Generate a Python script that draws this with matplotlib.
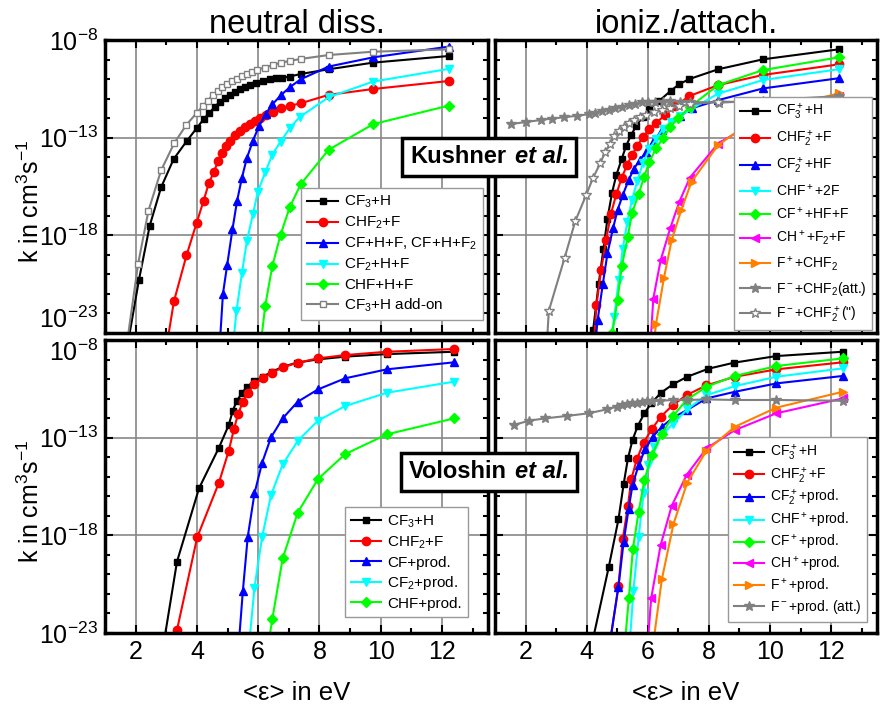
import numpy as np
import matplotlib
matplotlib.use("Agg")
import matplotlib.pyplot as plt
from matplotlib.ticker import NullFormatter
from matplotlib.offsetbox import TextArea, HPacker, AnnotationBbox

plt.rcParams['font.family'] = ['Liberation Sans', 'DejaVu Sans']
plt.rcParams['mathtext.default'] = 'regular'

# ---- Kushner et al., neutral dissociation (log10 k in cm^3/s vs <eps> in eV)
k_cf3h_x = [1.75, 2.11, 2.46, 2.83, 3.24, 3.68, 4.00, 4.22, 4.39, 4.58, 4.74, 4.91, 5.07, 5.23,
            5.40, 5.58, 5.74, 5.92, 6.16, 6.37, 6.59, 6.79, 7.03, 7.39, 8.30, 9.75, 12.22]
k_cf3h_y = [-23.5, -20.27, -17.51, -15.55, -14.10, -13.15, -12.50, -12.06, -11.75, -11.44, -11.17,
            -10.98, -10.81, -10.64, -10.52, -10.39, -10.28, -10.20, -10.10, -10.01, -9.97, -9.94,
            -9.87, -9.74, -9.50, -9.16, -8.82]
k_chf2_x = [3.03, 3.25, 3.66, 3.99, 4.22, 4.39, 4.55, 4.69, 4.83, 4.96, 5.09, 5.25, 5.42, 5.58,
            5.74, 5.91, 6.07, 6.27, 6.48, 6.76, 7.03, 7.39, 8.30, 9.75, 12.22]
k_chf2_y = [-23.5, -21.38, -19.03, -17.37, -16.22, -15.33, -14.77, -14.22, -13.80, -13.45, -13.15,
            -12.86, -12.65, -12.47, -12.30, -12.14, -12.01, -11.83, -11.70, -11.49, -11.37, -11.24,
            -10.81, -10.51, -10.10]
k_cf_x = [4.75, 4.85, 4.99, 5.16, 5.31, 5.47, 5.63, 5.83, 6.03, 6.24, 6.46, 6.76, 7.03, 7.39,
          8.30, 9.75, 12.22]
k_cf_y = [-23.5, -21.0, -19.5, -17.7, -16.25, -15.05, -14.05, -13.15, -12.4, -11.8, -11.3, -10.8,
          -10.42, -10.01, -9.36, -8.89, -8.34]
k_cf2_x = [5.19, 5.29, 5.47, 5.63, 5.83, 5.99, 6.23, 6.46, 6.73, 7.03, 7.35, 8.30, 9.75, 12.22]
k_cf2_y = [-23.5, -21.89, -19.93, -18.31, -16.91, -15.76, -14.78, -13.88, -13.20, -12.52, -11.95,
           -10.93, -10.13, -9.48]
k_chf_x = [6.09, 6.23, 6.46, 6.73, 7.03, 7.39, 8.30, 9.75, 12.22]
k_chf_y = [-23.5, -21.60, -19.59, -17.97, -16.56, -15.38, -13.62, -12.31, -11.36]
k_addon_x = [1.72, 2.08, 2.42, 2.83, 3.26, 3.65, 4.00, 4.20, 4.36, 4.52, 4.69, 4.83, 4.99, 5.14,
             5.31, 5.47, 5.63, 5.80, 5.96, 6.21, 6.48, 6.76, 7.03, 7.39, 8.30, 9.75, 12.22]
k_addon_y = [-23.5, -19.47, -16.73, -14.68, -13.28, -12.36, -11.72, -11.37, -11.10, -10.81,
             -10.59, -10.42, -10.25, -10.11, -9.98, -9.84, -9.74, -9.62, -9.53, -9.41, -9.28,
             -9.16, -9.07, -8.97, -8.77, -8.60, -8.48]

# ---- Kushner et al., ionization / attachment
ki_cf3_x = [4.21, 4.39, 4.55, 4.68, 4.83, 4.97, 5.15, 5.29, 5.45, 5.62, 5.83, 6.05, 6.38, 6.75,
            7.03, 7.36, 8.30, 9.77, 12.24]
ki_cf3_y = [-22.86, -20.51, -18.68, -17.14, -15.82, -14.92, -14.07, -13.43, -12.87, -12.41,
            -11.93, -11.54, -11.11, -10.60, -10.26, -10.0, -9.50, -8.99, -8.48]
ki_chf2_x = [4.24, 4.32, 4.47, 4.64, 4.79, 4.97, 5.15, 5.32, 5.48, 5.66, 5.84, 6.05, 6.27, 6.57,
             6.90, 7.36, 8.30, 9.77, 12.24]
ki_chf2_y = [-23.5, -21.58, -19.79, -18.22, -16.92, -15.89, -15.04, -14.41, -13.89, -13.43,
             -12.95, -12.58, -12.24, -11.84, -11.38, -10.87, -10.31, -9.79, -9.25]
ki_cf2_x = [4.28, 4.36, 4.53, 4.68, 4.86, 5.01, 5.18, 5.37, 5.55, 5.75, 5.95, 6.18, 6.46, 6.73,
            7.05, 7.43, 8.30, 9.77, 12.24]
ki_cf2_y = [-23.5, -22.32, -20.47, -18.93, -17.65, -16.71, -15.94, -15.18, -14.58, -14.12,
            -13.73, -13.21, -12.61, -12.31, -11.90, -11.50, -11.08, -10.48, -9.96]
ki_chf_x = [4.78, 4.90, 5.05, 5.18, 5.33, 5.48, 5.66, 5.84, 6.05, 6.27, 6.50, 6.75, 7.05, 7.40,
            8.30, 9.77, 12.24]
ki_chf_y = [-23.5, -22.2, -20.3, -18.7, -17.3, -16.2, -15.2, -14.3, -13.6, -13.05, -12.55,
            -12.2, -11.9, -11.55, -10.75, -10.05, -9.50]
ki_cf_x = [4.84, 5.01, 5.15, 5.34, 5.48, 5.70, 5.88, 6.05, 6.27, 6.49, 6.73, 7.00, 7.38, 8.30,
           9.77, 12.24]
ki_cf_y = [-23.0, -21.29, -19.58, -18.11, -16.88, -15.89, -15.00, -14.24, -13.55, -13.04,
           -12.44, -12.01, -11.42, -10.31, -9.54, -8.89]
ki_ch_x = [6.09, 6.18, 6.42, 6.73, 7.03, 7.38, 8.30, 9.77, 12.24]
ki_ch_y = [-23.5, -21.24, -19.28, -17.65, -16.29, -15.04, -13.30, -11.95, -10.85]
ki_f_x = [6.20, 6.27, 6.53, 6.78, 7.10, 7.43, 8.30, 9.77, 12.24]
ki_f_y = [-23.5, -22.52, -20.17, -18.25, -16.68, -15.26, -13.38, -11.75, -10.73]
ki_att_x = [1.51, 2.00, 2.49, 2.87, 3.25, 3.68, 4.07, 4.28, 4.50, 4.72, 4.93, 5.15, 5.37, 5.58,
            5.80, 6.02, 6.24, 6.49, 6.73, 7.05, 7.38, 8.32, 9.77, 12.24]
ki_att_y = [-12.31, -12.20, -12.10, -12.02, -11.96, -11.88, -11.80, -11.73, -11.64, -11.57,
            -11.50, -11.43, -11.33, -11.26, -11.20, -11.17, -11.16, -11.15, -11.14, -11.15,
            -11.17, -11.21, -11.10, -10.87]
ki_att2_x = [2.70, 2.76, 3.28, 3.63, 3.98, 4.20, 4.45, 4.61, 4.77, 4.91, 5.07, 5.21, 5.37, 5.55,
             5.75, 5.95, 6.20, 6.45, 6.73, 7.03, 7.38, 8.30, 9.77, 12.24]
ki_att2_y = [-23.5, -21.87, -19.14, -17.26, -15.95, -15.09, -14.29, -13.72, -13.30, -12.92,
             -12.65, -12.44, -12.25, -12.10, -11.95, -11.83, -11.70, -11.60, -11.50, -11.40,
             -11.30, -11.15, -11.20, -11.10]

# ---- Voloshin et al., neutral dissociation
v_cf3_x = [2.92, 3.35, 4.07, 4.72, 5.04, 5.17, 5.30, 5.48, 5.64, 5.88, 6.15, 6.46, 6.80, 7.27,
           7.95, 8.84, 10.20, 12.40]
v_cf3_y = [-23.5, -19.35, -15.59, -13.51, -12.35, -11.63, -11.11, -10.70, -10.39, -10.10, -9.88,
           -9.62, -9.37, -9.16, -8.99, -8.85, -8.72, -8.60]
v_chf2_x = [3.35, 4.01, 4.72, 5.04, 5.21, 5.34, 5.50, 5.66, 5.88, 6.15, 6.46, 6.80, 7.29, 7.95,
            8.84, 10.20, 12.40]
v_chf2_y = [-22.85, -18.10, -15.30, -13.67, -12.56, -11.81, -11.16, -10.70, -10.27, -9.96, -9.67,
            -9.40, -9.16, -8.94, -8.77, -8.60, -8.46]
v_cf_x = [5.37, 5.50, 5.66, 5.88, 6.13, 6.42, 6.80, 7.29, 7.95, 8.84, 10.20, 12.40]
v_cf_y = [-23.5, -20.85, -18.07, -15.85, -14.28, -12.98, -12.01, -11.16, -10.53, -9.96, -9.50,
          -9.14]
v_cf2_x = [5.71, 5.88, 6.13, 6.42, 6.80, 7.29, 7.95, 8.84, 10.20, 12.40]
v_cf2_y = [-23.5, -20.68, -18.07, -15.94, -14.37, -13.17, -12.13, -11.38, -10.70, -10.13]
v_chf_x = [6.34, 6.46, 6.80, 7.29, 7.95, 8.84, 10.20, 12.40]
v_chf_y = [-23.5, -22.30, -19.18, -16.84, -15.12, -13.84, -12.83, -12.01]

# ---- Voloshin et al., ionization / attachment
vi_cf3_x = [4.18, 4.72, 5.04, 5.21, 5.35, 5.50, 5.67, 5.89, 6.11, 6.43, 6.84, 7.29, 7.98, 8.82,
            10.21, 12.38]
vi_cf3_y = [-23.5, -19.64, -17.18, -15.37, -14.06, -13.12, -12.40, -11.75, -11.24, -10.70,
            -10.25, -9.88, -9.47, -9.16, -8.82, -8.60]
vi_chf2_x = [4.76, 5.04, 5.18, 5.35, 5.46, 5.64, 5.86, 6.13, 6.42, 6.82, 7.27, 7.92, 8.85,
             10.21, 12.38]
vi_chf2_y = [-23.5, -20.59, -18.20, -16.50, -15.13, -14.11, -13.26, -12.57, -11.93, -11.33,
             -10.82, -10.32, -9.88, -9.50, -9.14]
vi_cf2_x = [4.76, 5.04, 5.21, 5.37, 5.50, 5.70, 5.91, 6.16, 6.46, 6.84, 7.29, 7.92, 8.85,
            10.21, 12.38]
vi_cf2_y = [-23.5, -20.63, -18.32, -16.67, -15.42, -14.40, -13.60, -12.95, -12.44, -11.96,
            -11.58, -10.99, -10.65, -10.22, -9.84]
vi_chf_x = [5.41, 5.53, 5.70, 5.86, 6.02, 6.21, 6.46, 6.82, 7.29, 7.92, 8.85, 10.21, 12.38]
vi_chf_y = [-23.5, -20.83, -18.10, -15.85, -14.40, -13.49, -12.86, -12.30, -11.55, -10.82,
            -10.36, -9.88, -9.45]
vi_cf_x = [5.25, 5.38, 5.51, 5.70, 5.89, 6.13, 6.46, 6.82, 7.27, 7.92, 8.85, 10.21, 12.38]
vi_cf_y = [-23.5, -21.23, -18.72, -16.79, -15.17, -13.89, -12.81, -11.89, -11.07, -10.39,
           -9.84, -9.33, -8.94]
vi_ch_x = [6.00, 6.11, 6.42, 6.78, 7.27, 7.92, 8.85, 10.21, 12.38]
vi_ch_y = [-23.5, -21.23, -18.50, -16.50, -14.91, -13.55, -12.61, -11.75, -10.99]
vi_f_x = [6.18, 6.46, 6.84, 7.29, 7.92, 8.85, 10.21, 12.38]
vi_f_y = [-23.5, -20.25, -17.42, -15.30, -13.67, -12.44, -11.46, -10.65]
vi_att_x = [1.62, 2.11, 2.65, 3.34, 4.07, 4.66, 4.99, 5.15, 5.32, 5.48, 5.64, 5.80, 5.97, 6.13,
            6.40, 6.84, 7.27, 7.92, 8.85, 10.21, 12.38]
vi_att_y = [-12.35, -12.13, -12.01, -11.89, -11.75, -11.55, -11.41, -11.34, -11.29, -11.24,
            -11.21, -11.16, -11.12, -11.11, -11.11, -11.07, -11.07, -11.04, -11.07, -11.07,
            -11.11]

ytick_vals = [-23, -18, -13, -8]

BLACK, RED, BLUE, CYAN = '#000000', '#ff0000', '#0000ff', '#00ffff'
GREEN, MAGENTA, ORANGE, GRAY = '#00ff00', '#ff00ff', '#ff8000', '#808080'


def curve(ax, x, logk, color, marker, label, ms=5.5, mfc=None):
    ax.plot(x, 10.0 ** np.asarray(logk), color=color, lw=1.5, marker=marker, ms=ms,
            mfc=color if mfc is None else mfc, mec=color, mew=1.0, label=label)


def style(ax, left_labels, bottom_labels):
    ax.set_yscale('log')
    ax.set_xlim(1, 13.5)
    ax.set_ylim(1e-23, 1e-8)
    ax.set_xticks([2, 4, 6, 8, 10, 12])
    ax.set_xticks([1, 3, 5, 7, 9, 11, 13], minor=True)
    ax.set_yticks([10.0 ** v for v in ytick_vals])
    ax.set_yticklabels(['$10^{%d}$' % v for v in ytick_vals])
    ax.set_yticks([10.0 ** v for v in range(-22, -8)], minor=True)
    ax.yaxis.set_minor_formatter(NullFormatter())
    ax.grid(True, which='major', color='#888888', lw=1.2)
    ax.tick_params(which='both', direction='in', top=True, right=True, width=1.5,
                   labelsize=18, labelleft=left_labels, labelbottom=bottom_labels)
    ax.tick_params(which='major', length=6, pad=5)
    ax.tick_params(which='minor', length=3.5)
    for s in ax.spines.values():
        s.set_linewidth(2.5)
    if left_labels:
        ax.set_ylabel('k in cm$^3$s$^{-1}$', fontsize=18)
        ax.yaxis.set_label_coords(-0.16, 0.45)
    if bottom_labels:
        ax.set_xlabel('<ε> in eV', fontsize=18.5, labelpad=12)


def legend(ax, anchor, size=11, spacing=0.3):
    leg = ax.legend(loc='lower right', bbox_to_anchor=anchor, fontsize=size, fancybox=False,
                    framealpha=1, edgecolor='#999999', borderaxespad=0,
                    handlelength=2.0 * 11 / size, handletextpad=0.4, labelspacing=spacing,
                    borderpad=0.4)
    leg.get_frame().set_linewidth(1.0)


def ref_box(fig, xy, name):
    t1 = TextArea(name, textprops=dict(fontsize=17, fontweight='bold'))
    t2 = TextArea('et al.', textprops=dict(fontsize=17, fontweight='bold', fontstyle='italic'))
    box = HPacker(children=[t1, t2], align='baseline', pad=0, sep=6)
    ab = AnnotationBbox(box, xy, xycoords='figure fraction', frameon=True, pad=0,
                        bboxprops=dict(boxstyle='square,pad=0.55', fc='white', ec='black', lw=2.5))
    ab.set_zorder(10)
    fig.add_artist(ab)


fig = plt.figure(figsize=(8.8, 7.04), dpi=100)
ax_tl = fig.add_axes([0.1193, 0.5270, 0.4352, 0.4162])
ax_tr = fig.add_axes([0.5625, 0.5270, 0.4341, 0.4162])
ax_bl = fig.add_axes([0.1193, 0.1009, 0.4352, 0.4161])
ax_br = fig.add_axes([0.5625, 0.1009, 0.4341, 0.4161])

# neutral dissociation, Kushner
curve(ax_tl, k_cf3h_x, k_cf3h_y, BLACK, 's', 'CF$_3$+H', ms=5)
curve(ax_tl, k_chf2_x, k_chf2_y, RED, 'o', 'CHF$_2$+F', ms=6)
curve(ax_tl, k_cf_x, k_cf_y, BLUE, '^', 'CF+H+F, CF+H+F$_2$', ms=6)
curve(ax_tl, k_cf2_x, k_cf2_y, CYAN, 'v', 'CF$_2$+H+F', ms=6)
curve(ax_tl, k_chf_x, k_chf_y, GREEN, 'D', 'CHF+H+F', ms=5)
curve(ax_tl, k_addon_x, k_addon_y, GRAY, 's', 'CF$_3$+H add-on', ms=5, mfc='white')
style(ax_tl, True, False)
ax_tl.set_title('neutral diss.', fontsize=23.5, pad=3)
legend(ax_tl, (0.987, 0.044))

# ionization / attachment, Kushner
curve(ax_tr, ki_cf3_x, ki_cf3_y, BLACK, 's', 'CF$_3^+$+H', ms=5)
curve(ax_tr, ki_chf2_x, ki_chf2_y, RED, 'o', 'CHF$_2^+$+F', ms=6)
curve(ax_tr, ki_cf2_x, ki_cf2_y, BLUE, '^', 'CF$_2^+$+HF', ms=6)
curve(ax_tr, ki_chf_x, ki_chf_y, CYAN, 'v', 'CHF$^+$+2F', ms=6)
curve(ax_tr, ki_cf_x, ki_cf_y, GREEN, 'D', 'CF$^+$+HF+F', ms=5)
curve(ax_tr, ki_ch_x, ki_ch_y, MAGENTA, '<', 'CH$^+$+F$_2$+F', ms=6)
curve(ax_tr, ki_f_x, ki_f_y, ORANGE, '>', 'F$^+$+CHF$_2$', ms=6)
curve(ax_tr, ki_att_x, ki_att_y, GRAY, '*', 'F$^-$+CHF$_2$(att.)', ms=7)
curve(ax_tr, ki_att2_x, ki_att2_y, GRAY, '*', 'F$^-$+CHF$_2^+$(")', ms=7, mfc='white')
style(ax_tr, False, False)
ax_tr.set_title('ioniz./attach.', fontsize=23.5, pad=3)
legend(ax_tr, (0.987, 0.01), size=10, spacing=0.5)

# neutral dissociation, Voloshin
curve(ax_bl, v_cf3_x, v_cf3_y, BLACK, 's', 'CF$_3$+H', ms=5)
curve(ax_bl, v_chf2_x, v_chf2_y, RED, 'o', 'CHF$_2$+F', ms=6)
curve(ax_bl, v_cf_x, v_cf_y, BLUE, '^', 'CF+prod.', ms=6)
curve(ax_bl, v_cf2_x, v_cf2_y, CYAN, 'v', 'CF$_2$+prod.', ms=6)
curve(ax_bl, v_chf_x, v_chf_y, GREEN, 'D', 'CHF+prod.', ms=5)
style(ax_bl, True, True)
legend(ax_bl, (0.948, 0.055))

# ionization / attachment, Voloshin
curve(ax_br, vi_cf3_x, vi_cf3_y, BLACK, 's', 'CF$_3^+$+H', ms=5)
curve(ax_br, vi_chf2_x, vi_chf2_y, RED, 'o', 'CHF$_2^+$+F', ms=6)
curve(ax_br, vi_cf2_x, vi_cf2_y, BLUE, '^', 'CF$_2^+$+prod.', ms=6)
curve(ax_br, vi_chf_x, vi_chf_y, CYAN, 'v', 'CHF$^+$+prod.', ms=6)
curve(ax_br, vi_cf_x, vi_cf_y, GREEN, 'D', 'CF$^+$+prod.', ms=5)
curve(ax_br, vi_ch_x, vi_ch_y, MAGENTA, '<', 'CH$^+$+prod.', ms=6)
curve(ax_br, vi_f_x, vi_f_y, ORANGE, '>', 'F$^+$+prod.', ms=6)
curve(ax_br, vi_att_x, vi_att_y, GRAY, '*', 'F$^-$+prod. (att.)', ms=7)
style(ax_br, False, True)
legend(ax_br, (0.974, 0.038), size=10, spacing=0.2)

# keep the 10^-23 / 10^-8 labels of the two left panels apart
ax_tl.get_yticklabels()[0].set_verticalalignment('bottom')
ax_bl.get_yticklabels()[-1].set_verticalalignment('top')

ref_box(fig, (0.556, 0.777), 'Kushner')
ref_box(fig, (0.556, 0.330), 'Voloshin')

fig.savefig('out.png', dpi=100)
